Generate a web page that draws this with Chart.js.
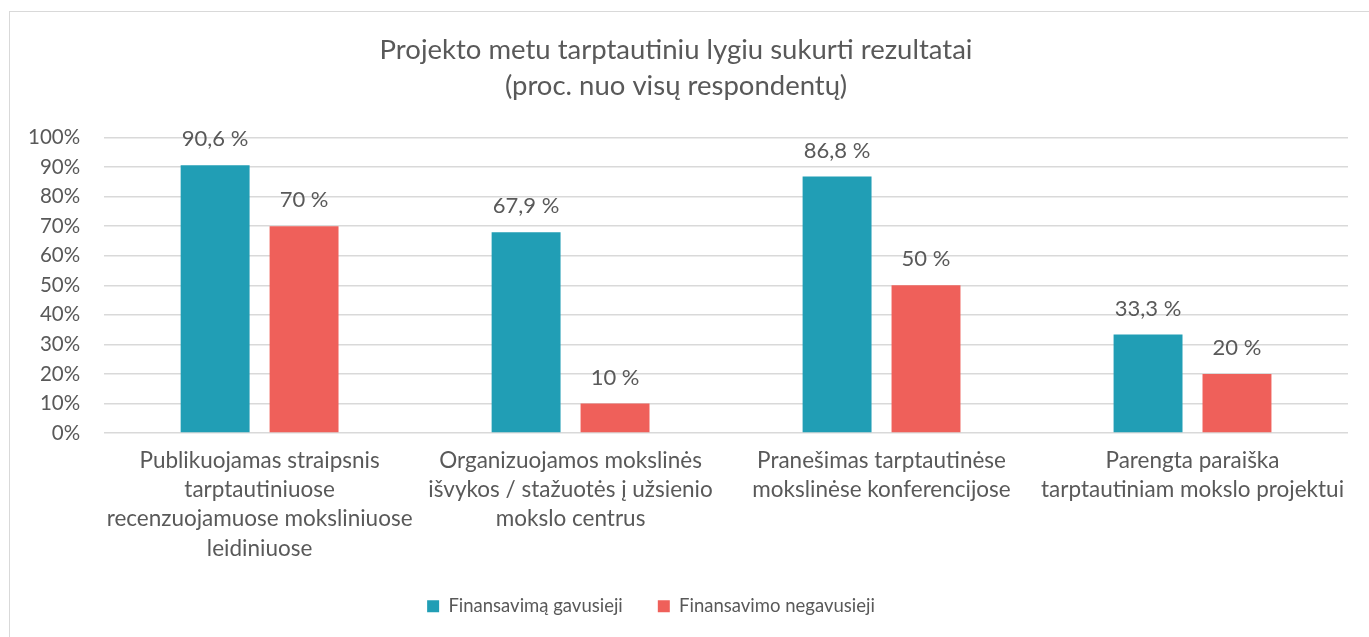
<!DOCTYPE html>
<html lang="lt">
<head>
<meta charset="UTF-8">
<title>Projekto metu tarptautiniu lygiu sukurti rezultatai</title>
<script src="https://cdn.jsdelivr.net/npm/chart.js"></script>
<style>
  html, body { margin: 0; padding: 0; background: #fff; overflow: hidden; }
  .frame {
    position: absolute; left: 9px; top: 11px;
    width: 1400px; height: 700px;
    border: 1px solid #d9d9d9;
  }
  .wrap { position: absolute; left: 0; top: 0; width: 1369px; height: 637px; }
</style>
</head>
<body>
<div class="frame"></div>
<div class="wrap"><canvas id="chart"></canvas></div>
<script>
// categories and values
var categories = [
  ['Publikuojamas straipsnis', 'tarptautiniuose', 'recenzuojamuose moksliniuose', 'leidiniuose'],
  ['Organizuojamos mokslinės', 'išvykos / stažuotės į užsienio', 'mokslo centrus'],
  ['Pranešimas tarptautinėse', 'mokslinėse konferencijose'],
  ['Parengta paraiška', 'tarptautiniam mokslo projektui']
];
var funded = [90.6, 67.9, 86.8, 33.3];
var notFunded = [70, 10, 50, 20];
var yTicks = [0, 10, 20, 30, 40, 50, 60, 70, 80, 90, 100];

var grey = '#595959';
var fontName = "Lato, sans-serif";

// value labels above bars
var valueLabels = {
  id: 'valueLabels',
  afterDatasetsDraw: function (chart) {
    var ctx = chart.ctx;
    ctx.save();
    ctx.fillStyle = grey;
    ctx.font = '22px ' + fontName;
    ctx.textAlign = 'center';
    ctx.textBaseline = 'middle';
    chart.data.datasets.forEach(function (ds, i) {
      chart.getDatasetMeta(i).data.forEach(function (bar, j) {
        var txt = String(ds.data[j]).replace('.', ',') + ' %';
        ctx.fillText(txt, bar.x, bar.y - 26);
      });
    });
    ctx.restore();
  }
};

// legend sits a bit left of centre in the original, with wide item gaps
var legendNudge = {
  id: 'legendNudge',
  afterLayout: function (chart) {
    var lg = chart.legend;
    lg.left -= 25; lg.right -= 25;
    lg.top -= 6; lg.bottom -= 6;
  }
};

var ctx = document.getElementById('chart').getContext('2d');
new Chart(ctx, {
  type: 'bar',
  data: {
    labels: categories,
    datasets: [{
      label: 'Finansavimą gavusieji',
      data: funded,
      backgroundColor: '#219EB5',
      barPercentage: 0.775,
      categoryPercentage: 0.572
    }, {
      label: 'Finansavimo negavusieji',
      data: notFunded,
      backgroundColor: '#EF605A',
      barPercentage: 0.775,
      categoryPercentage: 0.572
    }]
  },
  options: {
    responsive: true,
    maintainAspectRatio: false,
    animation: false,
    layout: { padding: { left: 4, right: 21, top: 22, bottom: 11 } },
    plugins: {
      title: {
        display: true,
        text: ['Projekto metu tarptautiniu lygiu sukurti rezultatai', '(proc. nuo visų respondentų)'],
        color: grey,
        font: { family: fontName, size: 27.5, weight: 'normal', lineHeight: 1.3 },
        padding: { top: 10, bottom: 34 }
      },
      legend: {
        position: 'bottom',
        maxHeight: 58,
        labels: {
          color: grey,
          font: { family: fontName, size: 18.5 },
          boxWidth: 12, boxHeight: 12,
          padding: 35
        }
      },
      tooltip: { enabled: false }
    },
    scales: {
      x: {
        grid: { display: false },
        border: { display: false },
        ticks: {
          color: grey,
          font: { family: fontName, size: 22.5, lineHeight: 1.3 },
          padding: 5,
          maxRotation: 0,
          autoSkip: false
        }
      },
      y: {
        min: 0,
        max: 100,
        afterBuildTicks: function (axis) {
          axis.ticks = yTicks.map(function (v) { return { value: v }; });
        },
        grid: { color: '#d9d9d9', lineWidth: 1.5, drawTicks: false },
        border: { display: false },
        ticks: {
          color: grey,
          font: { family: fontName, size: 20.5 },
          padding: 24,
          callback: function (v) { return v + '%'; }
        }
      }
    }
  },
  plugins: [valueLabels, legendNudge]
});
</script>
</body>
</html>
